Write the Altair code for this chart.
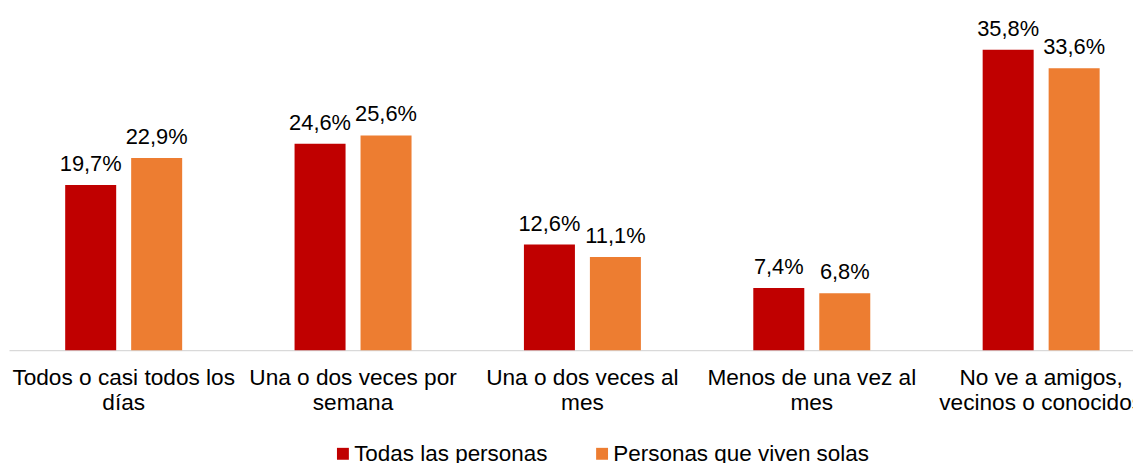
import altair as alt
import pandas as pd

categories = [
    "Todos o casi todos los\ndías",
    "Una o dos veces por\nsemana",
    "Una o dos veces al\nmes",
    "Menos de una vez al\nmes",
    "No ve a amigos,\nvecinos o conocidos",
]
series = ["Todas las personas", "Personas que viven solas"]
todas = [19.7, 24.6, 12.6, 7.4, 35.8]
solas = [22.9, 25.6, 11.1, 6.8, 33.6]
colors = ["#C00000", "#ED7D31"]

rows = []
for i, c in enumerate(categories):
    for s, vals in zip(series, [todas, solas]):
        v = vals[i]
        rows.append({"cat": c, "serie": s, "val": v,
                     "lab": f"{v:.1f}".replace(".", ",") + "%"})
df = pd.DataFrame(rows)

FONT = "Liberation Sans"

base = alt.Chart(df).encode(
    x=alt.X("cat:N", sort=categories, title=None,
            scale=alt.Scale(range=[0, 1155], paddingInner=0.49, paddingOuter=0.245),
            axis=alt.Axis(labelAngle=0, labelExpr="split(datum.label, '\\n')",
                          labelFont=FONT, labelFontSize=22.8, labelColor="#000000",
                          labelLineHeight=24.5, labelBaseline="top", labelPadding=17,
                          labelLimit=0,
                          ticks=False, tickSize=0, domainColor="#D9D9D9", domainWidth=1.3,
                          labelOverlap=False, labelBound=False)),
    xOffset=alt.XOffset("serie:N", sort=series,
                        scale=alt.Scale(paddingInner=0.227, paddingOuter=0)),
    y=alt.Y("val:Q", scale=alt.Scale(domain=[0, 40]), axis=None),
)

bars = base.mark_bar().encode(
    color=alt.Color("serie:N", sort=series,
                    scale=alt.Scale(domain=series, range=colors),
                    legend=alt.Legend(title=None, orient="none", direction="horizontal",
                                      legendX=325, legendY=431, padding=0,
                                      symbolType="square", symbolSize=144,
                                      symbolStrokeWidth=0, labelFont=FONT,
                                      labelFontSize=22.6, labelColor="#000000",
                                      labelLimit=0,
                                      labelOffset=0, columnPadding=43))
)

labels = base.mark_text(font=FONT, fontSize=22, color="#000000",
                        baseline="alphabetic", dy=-14).encode(text="lab:N")

chart = (bars + labels).properties(
    width=1132, height=338,
    background="#ffffff",
    padding={"left": 1, "top": 5, "right": 0, "bottom": 112},
    autosize=alt.AutoSizeParams(type="none"),
).configure_view(strokeWidth=0, stroke=None)

chart.save("out.html", embed_options={"renderer": "svg", "actions": False})
